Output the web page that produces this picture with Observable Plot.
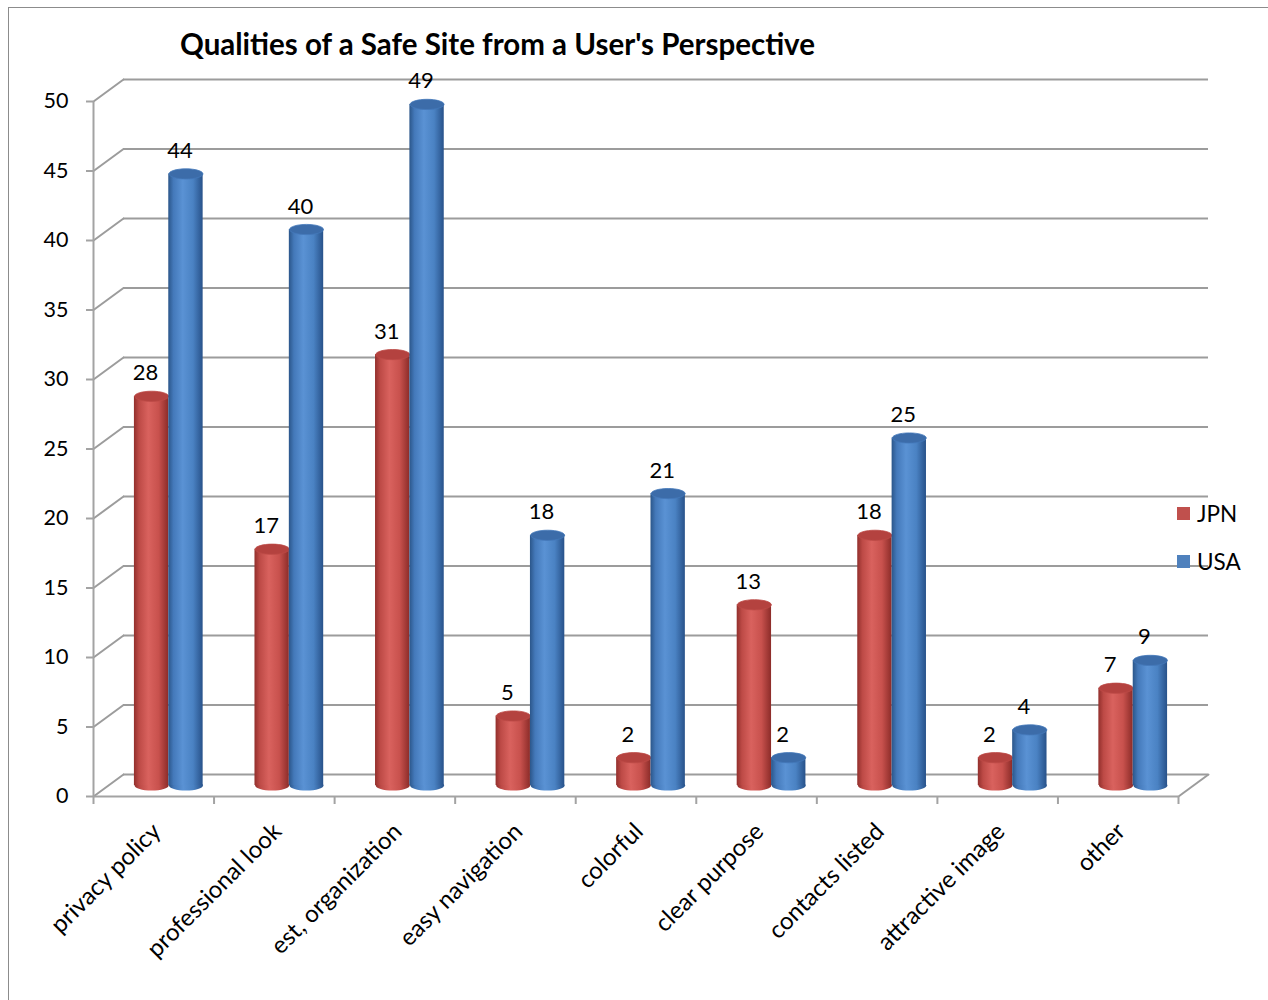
<!DOCTYPE html>
<html>
<head>
<meta charset="utf-8">
<script src="https://cdn.jsdelivr.net/npm/d3@7"></script>
<script src="https://cdn.jsdelivr.net/npm/@observablehq/plot@0.6"></script>
<style>
  html, body { margin: 0; padding: 0; background: #fff; }
  #wrap { position: relative; width: 1268px; height: 1000px; overflow: hidden; font-family: Lato, "Open Sans", sans-serif; }
  #border { position: absolute; left: 8px; top: 7px; right: -4px; bottom: -4px; border-left: 1.5px solid #8c8c8c; border-top: 1.5px solid #8c8c8c; }
  #title { position: absolute; left: 0; width: 995px; top: 27px; text-align: center; font-weight: 700; font-size: 29.5px; line-height: 34px; color: #000; }
  #chart { position: absolute; left: 0; top: 0; }
  #legend { position: absolute; left: 1177px; top: 499px; font-size: 22.5px; color: #000; }
  #legend .item { display: flex; align-items: center; height: 28px; margin-bottom: 20px; }
  #legend .sw { width: 13px; height: 13px; margin-right: 7px; }
</style>
</head>
<body>
<div id="wrap">
  <div id="border"></div>
  <div id="chart"></div>
  <div id="title">Qualities of a Safe Site from a User's Perspective</div>
  <div id="legend"></div>
</div>
<script>
// Survey results: qualities that make a website feel safe, by country
const categories = [
  "privacy policy", "professional look", "est, organization", "easy navigation",
  "colorful", "clear purpose", "contacts listed", "attractive image", "other"
];
const jpnValues = [28, 17, 31, 5, 2, 13, 18, 2, 7];
const usaValues = [44, 40, 49, 18, 21, 2, 25, 4, 9];
const seriesNames = ["JPN", "USA"];
const yTicks = [0, 5, 10, 15, 20, 25, 30, 35, 40, 45, 50];

// Pseudo-3D geometry: the back wall is shifted right and up from the front plane
const DEPTH_X = 30, DEPTH_Y = -22;
const BAR_DX = DEPTH_X / 2, BAR_DY = DEPTH_Y / 2;
const DEPTH_LEN = Math.hypot(DEPTH_X, DEPTH_Y);
const DEPTH_ANGLE = Math.atan2(DEPTH_X, -DEPTH_Y) * 180 / Math.PI;
const BAR_W = 0.285;       // bar width, in category units
const CAP_R = 17;          // cylinder radius in px
const ELLIPSE_RATIO = 0.3; // squash of the cylinder caps

const GRID = "#9c9c9c";
const AXIS = "#a3a3a3";
const palette = {
  JPN: {stops: ["#922f2c", "#bd4a46", "#d9625e", "#c8514d", "#8c2c29"], cap: "#b4423f", swatch: "#c0504d"},
  USA: {stops: ["#2b568a", "#4479ba", "#5a92d4", "#4a82c3", "#28528a"], cap: "#3c6ca9", swatch: "#4f81bd"}
};

const rows = categories.flatMap((c, i) => [
  {category: c, i, series: "JPN", value: jpnValues[i]},
  {category: c, i, series: "USA", value: usaValues[i]}
]);

// Bar centre on the x scale (categories occupy [i, i+1])
const barCenter = d => d.i + 0.5 + (d.series === "JPN" ? -BAR_W / 2 : BAR_W / 2);

// Gradient definitions for the cylinder bodies
const defsMark = () => {
  const defs = d3.create("svg:defs");
  for (const s of seriesNames) {
    const g = defs.append("linearGradient").attr("id", `cyl-${s}`)
      .attr("x1", 0).attr("x2", 1).attr("y1", 0).attr("y2", 0);
    const offsets = [0, 0.15, 0.42, 0.72, 1];
    palette[s].stops.forEach((c, k) => g.append("stop").attr("offset", offsets[k]).attr("stop-color", c));
  }
  return defs.node();
};

// Elliptical symbol used for cylinder caps
const ellipse = {
  draw(context, size) {
    const rx = Math.sqrt(size / Math.PI), ry = rx * ELLIPSE_RATIO, k = 0.5522847498;
    context.moveTo(rx, 0);
    context.bezierCurveTo(rx, ry * k, rx * k, ry, 0, ry);
    context.bezierCurveTo(-rx * k, ry, -rx, ry * k, -rx, 0);
    context.bezierCurveTo(-rx, -ry * k, -rx * k, -ry, 0, -ry);
    context.bezierCurveTo(rx * k, -ry, rx, -ry * k, rx, 0);
    context.closePath();
  }
};

// Straight segment pointing along the vector direction
const edge = {
  draw(context, l) {
    context.moveTo(0, 0);
    context.lineTo(0, -l);
  }
};

function cylinders(series) {
  const data = rows.filter(d => d.series === series);
  return [
    Plot.dot(data, {x: barCenter, y: 0, r: CAP_R, symbol: ellipse, fill: `url(#cyl-${series})`, dx: BAR_DX, dy: BAR_DY}),
    Plot.rect(data, {
      x1: d => barCenter(d) - BAR_W / 2, x2: d => barCenter(d) + BAR_W / 2,
      y1: 0, y2: "value", fill: `url(#cyl-${series})`, dx: BAR_DX, dy: BAR_DY
    }),
    Plot.dot(data, {x: barCenter, y: "value", r: CAP_R, symbol: ellipse, fill: palette[series].cap,
      stroke: palette[series].stops[1], strokeWidth: 0.8, dx: BAR_DX, dy: BAR_DY})
  ];
}

const chart = Plot.plot({
  width: 1268,
  height: 1000,
  marginLeft: 93,
  marginRight: 90,
  marginTop: 101,
  marginBottom: 204,
  x: {domain: [0, categories.length], axis: null},
  y: {domain: [0, 50], axis: null},
  style: {fontFamily: "Lato, 'Open Sans', sans-serif", fontSize: "21px", background: "transparent", overflow: "visible", color: "#000"},
  marks: [
    defsMark,
    // back wall gridlines
    Plot.ruleY(yTicks, {dx: DEPTH_X, dy: DEPTH_Y, stroke: GRID, strokeWidth: 2.2}),
    // side-wall depth edges at each tick, and the floor's right edge
    Plot.vector(yTicks, {y: d => d, frameAnchor: "left", length: DEPTH_LEN, rotate: DEPTH_ANGLE, anchor: "start", shape: edge, stroke: GRID, strokeWidth: 2}),
    Plot.vector([0], {y: d => d, frameAnchor: "right", length: DEPTH_LEN, rotate: DEPTH_ANGLE, anchor: "start", shape: edge, stroke: GRID, strokeWidth: 2}),
    // front axes
    Plot.ruleY([0], {stroke: AXIS, strokeWidth: 2}),
    Plot.ruleX([0], {stroke: AXIS, strokeWidth: 2}),
    Plot.axisX({ticks: d3.range(categories.length + 1), tickFormat: () => "", tickSize: 8, stroke: AXIS, strokeWidth: 2, label: null}),
    Plot.axisY({ticks: yTicks, tickSize: 7, tickPadding: 18, stroke: AXIS, strokeWidth: 2, label: null, fontSize: 21.5, fill: "#000"}),
    // cylinders
    ...cylinders("JPN"),
    ...cylinders("USA"),
    // value labels
    Plot.text(rows, {x: barCenter, y: "value", text: d => String(d.value), dx: 9, dy: -34, fontSize: 22, fill: "#000"}),
    // category labels
    Plot.text(categories, {x: (d, i) => i + 0.5, y: 0, text: d => d, rotate: -45, textAnchor: "end", dx: 3, dy: 31, fontSize: 24, fill: "#000"})
  ]
});
document.getElementById("chart").append(chart);

// Legend
const legend = document.getElementById("legend");
for (const s of seriesNames) {
  const item = document.createElement("div");
  item.className = "item";
  const sw = document.createElement("span");
  sw.className = "sw";
  sw.style.background = palette[s].swatch;
  const label = document.createElement("span");
  label.textContent = s;
  item.append(sw, label);
  legend.append(item);
}
</script>
</body>
</html>
